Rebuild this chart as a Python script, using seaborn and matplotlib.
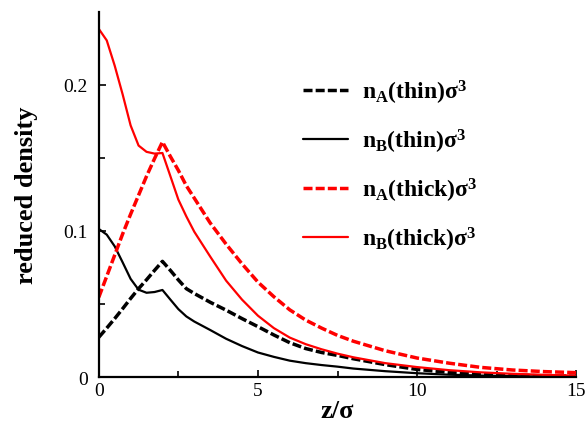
import matplotlib
matplotlib.use("Agg")
import matplotlib.pyplot as plt
import pandas as pd
import numpy as np
import seaborn as sns

# values
z = [0, 0.25, 0.5, 0.75, 1.0, 1.25, 1.5, 1.75, 2.0, 2.25, 2.5, 2.75, 3.0,
     3.5, 4.0, 4.5, 5.0, 5.5, 6.0, 6.5, 7.0, 7.5, 8.0, 9, 10, 11, 12, 13, 14, 15]
nA_thin = [0.0272, 0.0335, 0.0400, 0.0468, 0.0538, 0.0605, 0.0666, 0.0730,
           0.0792, 0.073, 0.0665, 0.0605, 0.0572, 0.0512, 0.0458, 0.040,
           0.0345, 0.0288, 0.0235, 0.0195, 0.0168, 0.0148, 0.0125, 0.0085,
           0.0052, 0.0032, 0.002, 0.0013, 0.0008, 0.0005]
nB_thin = [0.1014, 0.0975, 0.0895, 0.0785, 0.0672, 0.0598, 0.0577, 0.0582,
           0.0596, 0.053, 0.0465, 0.0415, 0.038, 0.0322, 0.0262, 0.0212,
           0.0168, 0.0138, 0.0112, 0.0095, 0.0082, 0.0071, 0.0058, 0.004,
           0.0026, 0.0016, 0.001, 0.0006, 0.0004, 0.0003]
nA_thick = [0.0546, 0.069, 0.0835, 0.098, 0.1115, 0.1245, 0.1375, 0.1495,
            0.161, 0.151, 0.1415, 0.131, 0.1225, 0.1055, 0.091, 0.0775,
            0.065, 0.055, 0.046, 0.039, 0.0335, 0.0285, 0.0245, 0.018,
            0.013, 0.0095, 0.0066, 0.0048, 0.0037, 0.003]
nB_thick = [0.2384, 0.2305, 0.2132, 0.1935, 0.1723, 0.1585, 0.1542, 0.1530,
            0.1534, 0.1375, 0.1215, 0.110, 0.0995, 0.0825, 0.066, 0.053,
            0.042, 0.0335, 0.027, 0.0225, 0.019, 0.016, 0.0135, 0.0095,
            0.0068, 0.0047, 0.0032, 0.0022, 0.0015, 0.001]

labels = [r'n$_\mathbf{A}$(thin)σ$^\mathbf{3}$',
          r'n$_\mathbf{B}$(thin)σ$^\mathbf{3}$',
          r'n$_\mathbf{A}$(thick)σ$^\mathbf{3}$',
          r'n$_\mathbf{B}$(thick)σ$^\mathbf{3}$']

sns.set_style("ticks")
plt.rcParams['font.family'] = ['Liberation Serif', 'DejaVu Serif']
plt.rcParams['mathtext.fontset'] = 'custom'
plt.rcParams['mathtext.rm'] = 'Liberation Serif:bold'
plt.rcParams['mathtext.bf'] = 'Liberation Serif:bold'
plt.rcParams['mathtext.it'] = 'Liberation Serif:italic'
for key in ['text.color', 'axes.labelcolor', 'xtick.color', 'ytick.color']:
    plt.rcParams[key] = 'black'

fig = plt.figure(figsize=(5.88, 4.27), dpi=100)
ax = fig.add_axes([0.168, 0.1147, 0.812, 0.855])

dash = (2.6, 0.9)
sns.lineplot(x=z, y=nA_thin, ax=ax, color='black', lw=2.5, label=labels[0])
sns.lineplot(x=z, y=nB_thin, ax=ax, color='black', lw=1.6, label=labels[1])
sns.lineplot(x=z, y=nA_thick, ax=ax, color='red', lw=2.5, label=labels[2])
sns.lineplot(x=z, y=nB_thick, ax=ax, color='red', lw=1.6, label=labels[3])
ax.lines[0].set_dashes(dash)
ax.lines[2].set_dashes(dash)

ax.set_xlim(0, 15)
ax.set_ylim(0, 0.25)
ax.set_xticks([0, 5, 10, 15])
ax.set_xticks([2.5, 7.5, 12.5], minor=True)
ax.set_yticks([0, 0.1, 0.2])
ax.set_yticklabels(['0', '0.1', '0.2'])
ax.set_yticks([0.05, 0.15], minor=True)
ax.tick_params(which='both', direction='in', width=1.2, labelsize=14)
ax.tick_params(which='major', length=5)
ax.tick_params(which='minor', length=4)
ax.tick_params(axis='y', pad=8)
for side in ['top', 'right']:
    ax.spines[side].set_visible(False)
for side in ['left', 'bottom']:
    ax.spines[side].set_linewidth(1.6)
    ax.spines[side].set_color('black')

ax.set_xlabel('z/σ', fontsize=19, fontweight='bold', labelpad=0)
ax.set_ylabel('reduced density', fontsize=19, fontweight='bold', labelpad=18)

leg = ax.legend(loc='upper left', bbox_to_anchor=(0.428, 0.82), frameon=False,
                prop={'weight': 'bold', 'size': 17},
                handlelength=1.9, handletextpad=0.6, labelspacing=0.88,
                borderpad=0, borderaxespad=0)

fig.savefig('out.png', dpi=100)
